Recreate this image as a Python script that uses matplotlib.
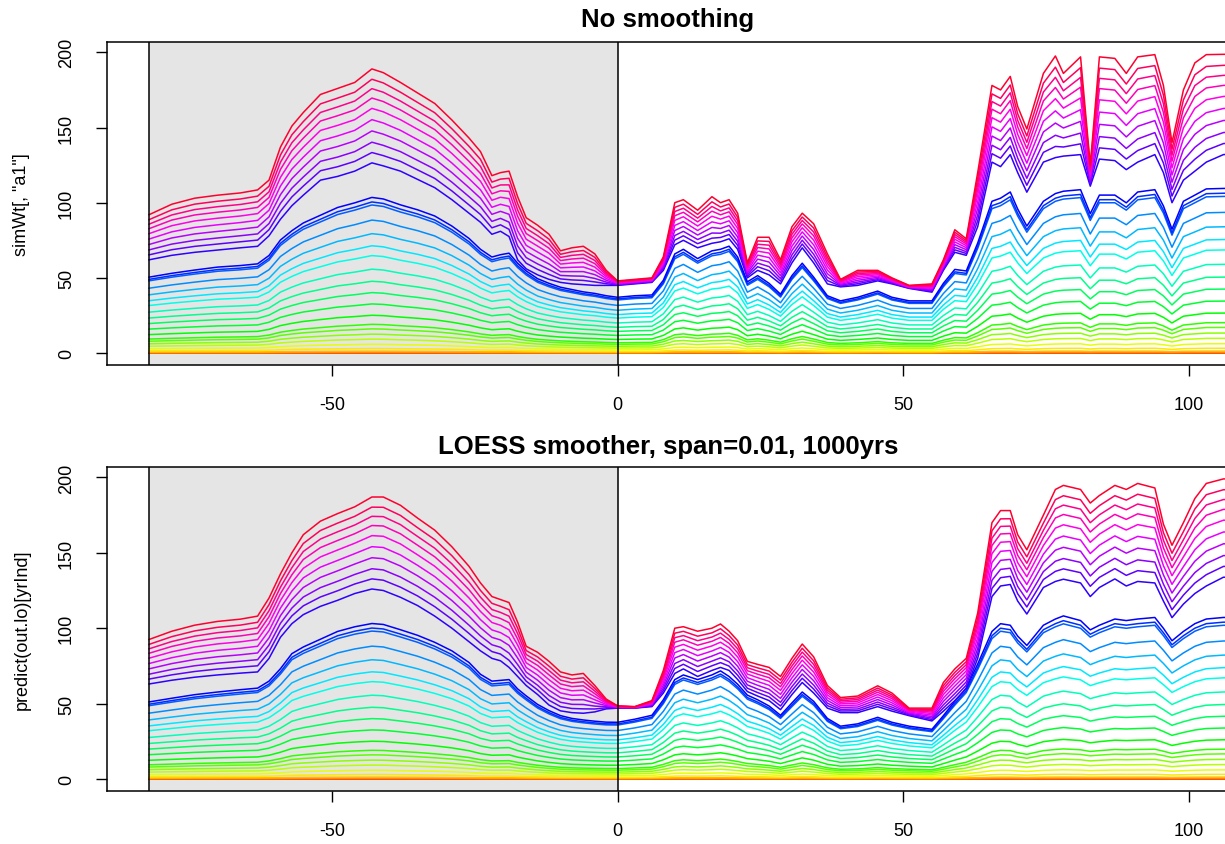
import numpy as np
import matplotlib.pyplot as plt
from matplotlib.colors import hsv_to_rgb

# year knots (shared by every profile)
years = [-82, -78, -74, -70, -66, -63, -61, -59, -57, -55, -52, -49, -46, -43,
         -41, -38, -35, -32, -29, -26, -24, -22, -20.5, -19, -17.5, -16, -14,
         -12, -10, -8, -6, -4, -2, 0, 3, 6, 8, 10, 11.5, 14, 16.5, 18, 19.5,
         21, 22.7, 24.5, 26.5, 28.5, 30.5, 32.3, 34.3, 36.7, 39, 42, 45.5, 48,
         51, 55, 57, 59, 61, 63, 65.5, 67, 68.7, 70, 71.6, 74.5, 76.6, 78, 81,
         82.7, 84.3, 87, 89, 91, 94, 95.5, 97, 99, 101, 103, 106, 110]

# --- panel 1: no smoothing ---
raw_red = [92, 99, 103, 105, 106.5, 108.5, 115, 137, 151, 160, 172, 176, 180, 189,
           186.5, 180, 173, 166, 155, 143, 134, 118, 120, 121, 104, 90, 85,
           79, 68, 70, 71, 66, 55, 48, 49, 50, 64, 100, 102, 95, 104, 100, 102,
           93, 60, 77, 77, 62, 84, 93, 86, 66, 49, 55, 55, 50,
           45, 46, 62, 82, 76, 120, 178, 175, 184, 164, 149, 186, 197.6, 186, 197,
           125, 197, 196, 186, 197, 198.5, 178, 140, 175, 193, 198.5, 198.7, 199]
raw_blue = [62, 65, 67, 68.5, 70, 71, 78, 89, 98, 105, 115, 117.5, 121, 126.5,
            124.5, 121, 115.5, 110, 102, 93, 87, 79, 81, 77.5, 62, 56, 52,
            49, 47, 46, 45.5, 45, 45, 45, 46, 47, 55, 72, 75, 70, 73, 74, 76,
            69, 50, 55, 52, 46, 60, 70, 60, 46, 44, 45, 48, 46,
            43, 40.5, 55, 67, 65, 84, 127, 124, 132, 120, 107, 127, 130, 131, 132,
            111, 129, 128, 122, 127, 132, 120, 100, 115, 121, 127, 132, 133]
raw_mid = [49, 51.5, 53.6, 55.5, 56.5, 57.6, 63, 73, 79, 84, 89, 94, 97, 100.5,
           99.5, 95.7, 92.5, 88.5, 82, 74, 67, 62, 63.5, 64.5, 58, 53, 48,
           45, 42.5, 41, 39.5, 38.5, 37, 36, 37, 37.5, 47, 64, 67, 61, 66, 67, 69,
           62, 46, 50, 45, 38, 50, 58, 49, 37, 33.7, 36, 40, 36,
           33.7, 33.7, 45, 54, 53, 71, 98, 100, 104, 93, 82, 98, 103, 104.5, 105.5,
           90, 102, 102, 97, 104, 105.5, 95, 80, 98, 102, 106, 106.3, 106.5]

# --- panel 2: LOESS smoother ---
lo_red = [92.5, 98, 102, 104.5, 106, 108, 120, 136, 150, 162, 171, 176, 180.5, 187,
          187, 181.5, 173, 165, 154, 141, 130, 121, 119, 117, 104, 88, 84,
          78, 71, 69, 70, 62, 53, 48.5, 48, 52, 72, 100, 101, 98, 100, 102.8, 98,
          91.7, 78, 76, 74, 68, 80, 89.5, 81, 62, 54, 55, 61.8, 57,
          47, 47, 64, 73, 80, 110, 170, 178, 178, 162, 152, 175, 192, 194.7, 192,
          183, 188, 194.7, 192, 196, 193, 169, 155, 170, 186, 196, 199, 199]
lo_blue = [63, 65.5, 67.5, 69, 70.2, 71, 80, 94, 103, 109, 114.5, 118.5, 123, 126,
           125, 120.5, 115, 108, 100, 91, 85, 80, 78.4, 74, 68, 62, 56,
           49, 45.2, 44, 43.6, 44.5, 46.5, 47, 47, 48, 57, 70, 73, 68, 72, 74, 72,
           66, 58, 55, 52, 46, 56, 64, 57, 47, 44, 44, 48, 45,
           42, 38.5, 45, 52, 60, 80, 121, 128, 129, 118, 109.4, 127, 131, 132.5, 130,
           121, 127, 132.7, 128, 131, 130, 118, 107, 116, 123, 128, 133.8, 134]
lo_mid = [49.6, 52, 54.3, 56, 57.5, 58.5, 63, 71, 80.7, 85, 90, 95, 98, 100.1,
          99.5, 96.1, 92.5, 88, 82.5, 75, 67.4, 63, 63.5, 64, 58, 53.5, 48,
          44, 40.8, 39, 38, 37.2, 36.6, 36.5, 38.5, 41, 51, 64, 67, 64, 67, 69.6, 66,
          61, 54, 51, 47, 41, 49, 56, 50, 39, 34, 35.5, 39.7, 36.5,
          34, 32, 40.8, 50, 58.5, 74, 95, 100, 99, 92, 86, 99, 103, 105, 102,
          96, 99, 103, 102, 103, 104, 97, 89, 95, 100, 103, 104, 104]

# line levels (relative to the profiles above)
lower_frac = [0, 0, 0, 0.005, 0.012, 0.03, 0.058, 0.092, 0.125, 0.16, 0.19,
              0.25, 0.325, 0.40, 0.475, 0.555, 0.645, 0.71, 0.79, 0.88]
mid_frac = [0.98, 1.0, 1.03]
upper_frac = [0, 0.11, 0.22, 0.34, 0.46, 0.58, 0.69, 0.79, 0.89, 1.0]

n_lines = len(lower_frac) + len(mid_frac) + len(upper_frac)
colors = [hsv_to_rgb((i / n_lines, 1, 1)) for i in range(n_lines)]


def build_lines(red, blue, mid):
    red, blue, mid = np.array(red), np.array(blue), np.array(mid)
    out = [f * mid for f in lower_frac]
    out += [f * mid for f in mid_frac]
    out += [blue + f * (red - blue) for f in upper_frac]
    return out


plt.rcParams['font.family'] = ['Liberation Sans', 'DejaVu Sans']
plt.rcParams['axes.unicode_minus'] = False

W, H = 1225, 845
fig = plt.figure(figsize=(W / 100, H / 100), dpi=100)

panels = [
    (43, 366, "No smoothing", 'simWt[, "a1"]', build_lines(raw_red, raw_blue, raw_mid), 20),
    (468, 792, "LOESS smoother, span=0.01, 1000yrs", "predict(out.lo)[yrInd]",
     build_lines(lo_red, lo_blue, lo_mid), 447),
]

for top, bot, title, ylab, lines, ty in panels:
    ax = fig.add_axes([107 / W, 1 - bot / H, 1121 / W, (bot - top) / H])
    ax.axvspan(-82, 0, color='#E5E5E5', zorder=0, lw=0)
    for i, y in enumerate(lines):
        ax.plot(years, y, color=colors[i], lw=1.1, zorder=2)
    ax.axvline(-82, color='black', lw=1.1, zorder=3)
    ax.axvline(0, color='black', lw=1.1, zorder=3)

    ax.set_xlim(-89.35, 106.8)
    ax.set_ylim(-7.96, 206.9)
    ax.set_xticks([-50, 0, 50, 100])
    ax.set_yticks([0, 50, 100, 150, 200])
    ax.set_yticklabels(['0', '50', '100', '150', '200'], rotation=90, va='center')
    ax.tick_params(direction='out', length=8, width=1, labelsize=13, colors='black')
    ax.tick_params(axis='x', pad=14)
    ax.tick_params(axis='y', pad=15)
    for s in ax.spines.values():
        s.set_linewidth(1.1)
        s.set_color('black')

    fig.text(668 / W, 1 - ty / H, title, ha='center', va='center',
             fontsize=18.5, fontweight='bold')
    fig.text(22 / W, 1 - (top + bot) / 2 / H, ylab, rotation=90,
             ha='center', va='center', fontsize=13)

fig.savefig("out.png", dpi=100)
